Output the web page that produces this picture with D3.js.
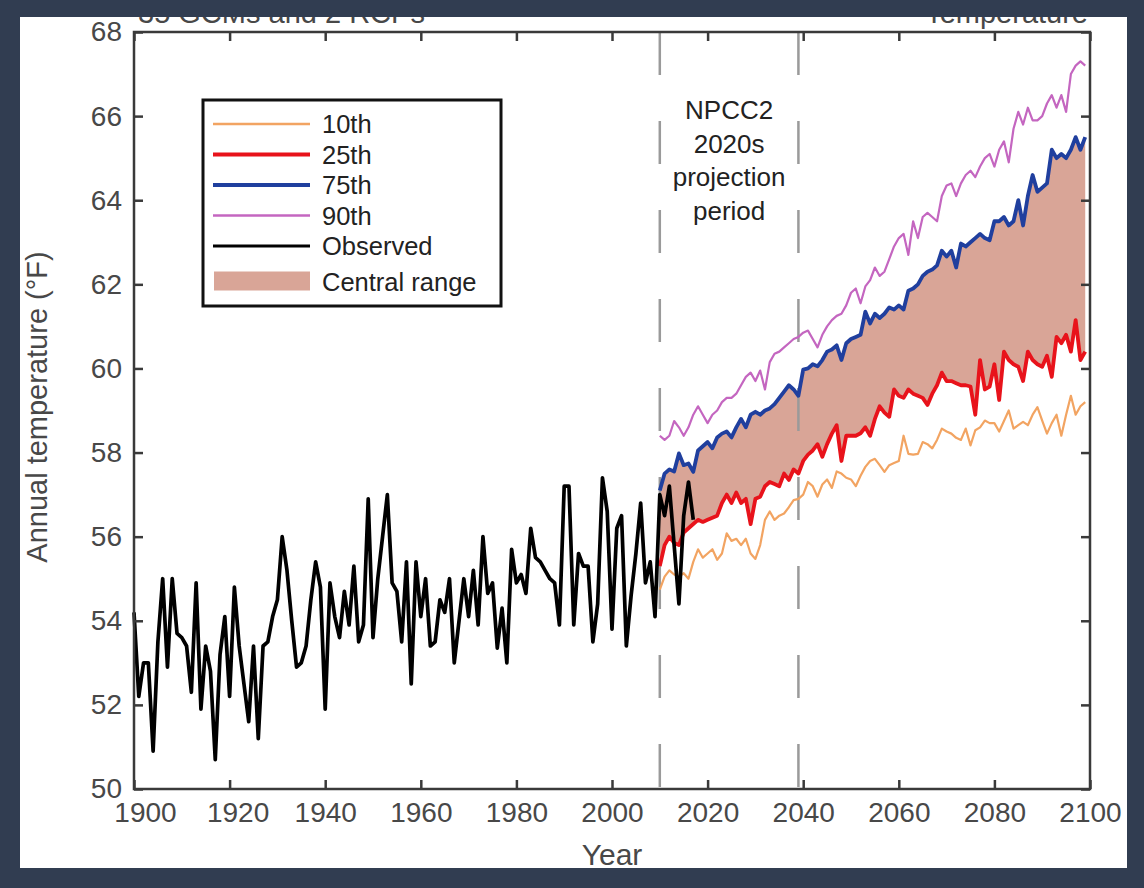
<!DOCTYPE html>
<html>
<head>
<meta charset="utf-8">
<script src="https://cdn.jsdelivr.net/npm/d3@7/dist/d3.min.js"></script>
<style>
  body { margin: 0; background: #fff; }
  svg { display: block; }
  text { font-family: "Liberation Sans", Arial, sans-serif; }
</style>
</head>
<body>
<div id="wrapper"></div>
<script>
// observed annual temperature, 1900-2017
const observedStart = 1900
const observed = [
  54.2, 52.2, 53.0, 53.0, 50.9, 53.5, 55.0, 52.9, 55.0, 53.7,
  53.6, 53.4, 52.3, 54.9, 51.9, 53.4, 52.8, 50.7, 53.2, 54.1,
  52.2, 54.8, 53.4, 52.5, 51.6, 53.4, 51.2, 53.4, 53.5, 54.1,
  54.5, 56.0, 55.2, 54.0, 52.9, 53.0, 53.4, 54.5, 55.4, 54.8,
  51.9, 54.9, 54.1, 53.6, 54.7, 53.9, 55.3, 53.5, 53.9, 56.9,
  53.6, 55.0, 56.0, 57.0, 54.9, 54.7, 53.5, 55.4, 52.5, 55.4,
  54.1, 55.0, 53.4, 53.5, 54.5, 54.2, 55.0, 53.0, 54.0, 55.0,
  54.1, 55.2, 53.9, 56.0, 54.65, 54.9, 53.35, 54.3, 53.0, 55.7,
  54.9, 55.1, 54.65, 56.2, 55.5, 55.4, 55.2, 55.0, 54.9, 53.9,
  57.2, 57.2, 53.9, 55.6, 55.3, 55.3, 53.5, 54.4, 57.4, 56.6,
  53.8, 56.2, 56.5, 53.4, 54.6, 55.6, 56.8, 54.9, 55.4, 54.1,
  57.0, 56.5, 57.2, 55.8, 54.4, 56.5, 57.3, 56.4
]

// model percentiles, 2010-2099
const projStart = 2010
const p10 = [
  54.74, 55.05, 55.2, 55.1, 55.05, 55.13, 55.0, 55.4, 55.7, 55.5,
  55.6, 55.7, 55.45, 55.6, 56.08, 55.9, 55.95, 55.8, 55.95, 55.6,
  55.47, 55.8, 56.4, 56.6, 56.4, 56.5, 56.55, 56.7, 56.87, 56.9,
  57.0, 57.3, 57.2, 56.95, 57.24, 57.36, 57.16, 57.55, 57.5, 57.4,
  57.36, 57.2, 57.45, 57.66, 57.8, 57.85, 57.7, 57.54, 57.7, 57.75,
  57.8, 58.4, 57.97, 57.95, 57.97, 58.25, 58.2, 58.1, 58.3, 58.57,
  58.5, 58.45, 58.35, 58.3, 58.57, 58.17, 58.53, 58.6, 58.76, 58.7,
  58.7, 58.5, 58.75, 59.0, 58.57, 58.65, 58.73, 58.65, 58.9, 59.08,
  58.76, 58.45, 58.7, 58.9, 58.4, 58.9, 59.35, 58.9, 59.1, 59.2
]
const p25 = [
  55.3, 55.8, 56.0, 55.85, 55.8, 56.1, 56.2, 56.3, 56.4, 56.35,
  56.4, 56.45, 56.5, 56.8, 57.0, 56.8, 57.05, 56.8, 56.9, 56.3,
  56.9, 56.95, 57.2, 57.3, 57.25, 57.2, 57.5, 57.35, 57.6, 57.5,
  57.8, 57.95, 58.05, 58.2, 57.9, 58.2, 58.45, 58.65, 57.8, 58.4,
  58.4, 58.4, 58.46, 58.6, 58.4, 58.8, 59.1, 58.95, 58.85, 59.5,
  59.35, 59.3, 59.5, 59.4, 59.35, 59.3, 59.13, 59.4, 59.6, 59.9,
  59.7, 59.7, 59.65, 59.6, 59.6, 59.57, 58.9, 60.2, 59.5, 59.57,
  60.1, 59.25, 60.4, 60.2, 60.1, 60.04, 59.7, 60.4, 60.2, 60.1,
  60.04, 60.3, 59.8, 60.75, 60.6, 60.8, 60.4, 61.15, 60.2, 60.4
]
const p75 = [
  57.1, 57.5, 57.6, 57.55, 57.98, 57.7, 57.74, 57.54, 58.05, 58.15,
  58.25, 58.1, 58.36, 58.45, 58.5, 58.36, 58.6, 58.8, 58.6, 58.9,
  58.97, 58.9, 59.0, 59.05, 59.15, 59.3, 59.45, 59.6, 59.5, 59.35,
  59.97, 60.0, 60.1, 60.05, 60.2, 60.4, 60.45, 60.55, 60.2, 60.6,
  60.7, 60.75, 60.8, 61.35, 61.07, 61.3, 61.2, 61.3, 61.45, 61.4,
  61.5, 61.4, 61.85, 61.9, 62.0, 62.2, 62.3, 62.35, 62.45, 62.8,
  62.66, 62.8, 62.4, 62.97, 62.9, 63.0, 63.1, 63.2, 63.1, 63.05,
  63.5, 63.5, 63.6, 63.4, 63.5, 64.0, 63.4, 64.1, 64.6, 64.2,
  64.3, 64.4, 65.2, 65.0, 65.1, 65.0, 65.2, 65.5, 65.2, 65.5
]
const p90 = [
  58.4, 58.3, 58.4, 58.75, 58.6, 58.4, 58.6, 58.9, 59.1, 58.9,
  58.7, 58.9, 59.0, 59.2, 59.3, 59.3, 59.4, 59.6, 59.8, 59.9,
  59.7, 59.95, 59.5, 60.15, 60.35, 60.4, 60.5, 60.6, 60.7, 60.75,
  60.85, 60.9, 60.7, 60.5, 60.8, 61.0, 61.15, 61.25, 61.3, 61.5,
  61.8, 61.9, 61.55, 61.95, 62.1, 62.4, 62.2, 62.3, 62.6, 62.9,
  63.1, 63.2, 62.7, 63.5, 63.1, 63.6, 63.7, 63.6, 63.5, 64.1,
  64.35, 64.4, 64.1, 64.4, 64.6, 64.7, 64.55, 64.8, 65.0, 65.1,
  64.8, 65.2, 65.4, 64.9, 65.7, 66.1, 65.8, 66.2, 65.9, 65.9,
  66.0, 66.3, 66.5, 66.2, 66.5, 66.1, 67.0, 67.2, 67.3, 67.2
]

const xTicks = [1900, 1920, 1940, 1960, 1980, 2000, 2020, 2040, 2060, 2080, 2100]
const yTicks = [50, 52, 54, 56, 58, 60, 62, 64, 66, 68]
const periodBounds = [2010, 2039]
const periodText = ["NPCC2", "2020s", "projection", "period"]
const legendLabels = ["10th", "25th", "75th", "90th", "Observed", "Central range"]

const colors = {
  p10: "#f2a462", p25: "#e8131b", p75: "#203f9e", p90: "#c466c0",
  obs: "#000", band: "#d9a597", frame: "#3a3a3a", text: "#484848", border: "#313d51"
}

let dimensions = {
  width: 1144,
  height: 888,
  margin: { top: 32, right: 54, bottom: 99, left: 134 }
}
dimensions.boundedWidth = dimensions.width - dimensions.margin.left - dimensions.margin.right
dimensions.boundedHeight = dimensions.height - dimensions.margin.top - dimensions.margin.bottom

const obsData = observed.map((v, i) => ({ year: observedStart + i, value: v }))
const projData = p10.map((v, i) => ({
  year: projStart + i, p10: v, p25: p25[i], p75: p75[i], p90: p90[i]
}))

const wrapper = d3.select('#wrapper')
  .append('svg')
  .attr('width', dimensions.width)
  .attr('height', dimensions.height)

wrapper.append('rect')
  .attr('width', dimensions.width)
  .attr('height', dimensions.height)
  .attr('fill', '#fff')

// clipped titles (mostly hidden behind the dark border)
wrapper.append('text')
  .attr('x', 138).attr('y', 23)
  .attr('font-size', 29).attr('fill', colors.text)
  .text('35 GCMs and 2 RCPs')
wrapper.append('text')
  .attr('x', 1088).attr('y', 23)
  .attr('text-anchor', 'end')
  .attr('font-size', 29).attr('fill', colors.text)
  .text('Temperature')

const bounds = wrapper.append('g')
  .attr('transform', `translate(${dimensions.margin.left},${dimensions.margin.top})`)

const xScale = d3.scaleLinear()
  .domain([1900, 2100])
  .range([0, dimensions.boundedWidth])
const yScale = d3.scaleLinear()
  .domain([50, 68])
  .range([dimensions.boundedHeight, 0])

// central range band
const band = d3.area()
  .x(d => xScale(d.year))
  .y0(d => yScale(d.p25))
  .y1(d => yScale(d.p75))
bounds.append('path')
  .datum(projData)
  .attr('d', band)
  .attr('fill', colors.band)

// projection period markers
bounds.selectAll('.period')
  .data(periodBounds)
  .enter()
  .append('line')
  .attr('x1', d => xScale(d))
  .attr('x2', d => xScale(d))
  .attr('y1', 0)
  .attr('y2', dimensions.boundedHeight)
  .attr('stroke', '#9a9a9a')
  .attr('stroke-width', 2.5)
  .attr('stroke-dasharray', '43,46')

bounds.append('g')
  .selectAll('text')
  .data(periodText)
  .enter()
  .append('text')
  .attr('x', xScale(d3.mean(periodBounds)))
  .attr('y', (d, i) => 87 + i * 33.5)
  .attr('text-anchor', 'middle')
  .attr('font-size', 26)
  .attr('fill', '#222')
  .text(d => d)

function drawLine(data, accessor, color, width) {
  const line = d3.line()
    .x(d => xScale(d.year))
    .y(d => yScale(accessor(d)))
  bounds.append('path')
    .datum(data)
    .attr('d', line)
    .attr('fill', 'none')
    .attr('stroke', color)
    .attr('stroke-width', width)
    .attr('stroke-linejoin', 'round')
}
drawLine(projData, d => d.p10, colors.p10, 2.2)
drawLine(projData, d => d.p90, colors.p90, 2.2)
drawLine(projData, d => d.p75, colors.p75, 3.8)
drawLine(projData, d => d.p25, colors.p25, 3.8)
drawLine(obsData, d => d.value, colors.obs, 3.7)

// axes, ticks pointing inward
const styleAxis = g => {
  g.select('.domain').remove()
  g.selectAll('line').attr('stroke', colors.frame).attr('stroke-width', 2.5)
  g.selectAll('text').attr('font-size', 28).attr('fill', colors.text)
    .attr('font-family', '"Liberation Sans", Arial, sans-serif')
}
const xAxisBottom = bounds.append('g')
  .attr('transform', `translate(0,${dimensions.boundedHeight})`)
  .call(d3.axisBottom(xScale).tickValues(xTicks).tickSize(-9).tickPadding(13).tickFormat(d3.format('d')))
  .call(styleAxis)
// the first labels sit a little right of their ticks in the original
xAxisBottom.selectAll('.tick text')
  .attr('dx', d => d === 1900 ? 11 : d === 1920 ? 8 : 0)
bounds.append('g')
  .call(d3.axisTop(xScale).tickValues(xTicks).tickSize(-9).tickFormat(''))
  .call(styleAxis)
bounds.append('g')
  .call(d3.axisLeft(yScale).tickValues(yTicks).tickSize(-9).tickPadding(12))
  .call(styleAxis)
bounds.append('g')
  .attr('transform', `translate(${dimensions.boundedWidth},0)`)
  .call(d3.axisRight(yScale).tickValues(yTicks).tickSize(-9).tickFormat(''))
  .call(styleAxis)

bounds.append('rect')
  .attr('width', dimensions.boundedWidth)
  .attr('height', dimensions.boundedHeight)
  .attr('fill', 'none')
  .attr('stroke', colors.frame)
  .attr('stroke-width', 2.5)

// axis titles
wrapper.append('text')
  .attr('x', 612).attr('y', 865)
  .attr('text-anchor', 'middle')
  .attr('font-size', 30).attr('fill', colors.text)
  .text('Year')
wrapper.append('text')
  .attr('transform', 'translate(47,407) rotate(-90)')
  .attr('text-anchor', 'middle')
  .attr('font-size', 29).attr('fill', colors.text)
  .text('Annual temperature (°F)')

// legend
const legend = wrapper.append('g').attr('transform', 'translate(203,100)')
legend.append('rect')
  .attr('width', 298).attr('height', 206)
  .attr('fill', '#fff')
  .attr('stroke', '#111').attr('stroke-width', 3)
const legendStyles = [
  { color: colors.p10, width: 2.6 },
  { color: colors.p25, width: 3.8 },
  { color: colors.p75, width: 3.8 },
  { color: colors.p90, width: 2.6 },
  { color: colors.obs, width: 3 },
  { color: colors.band, box: true }
]
const legendRows = legend.selectAll('.row')
  .data(legendLabels)
  .enter()
  .append('g')
  .attr('transform', (d, i) => `translate(0,${24 + i * 30.5})`)
legendRows.each(function (d, i) {
  const row = d3.select(this)
  const s = legendStyles[i]
  if (s.box) {
    row.append('rect')
      .attr('x', 11).attr('y', -5).attr('width', 96).attr('height', 19)
      .attr('fill', s.color)
  } else {
    row.append('line')
      .attr('x1', 10).attr('x2', 107)
      .attr('stroke', s.color).attr('stroke-width', s.width)
  }
  row.append('text')
    .attr('x', 119).attr('y', s.box ? 14 : 9)
    .attr('font-size', 25.5).attr('fill', '#222')
    .text(d)
})

// dark frame around the picture
const border = wrapper.append('g').attr('fill', colors.border)
border.append('rect').attr('x', 0).attr('y', 0).attr('width', 1144).attr('height', 17)
border.append('rect').attr('x', 0).attr('y', 0).attr('width', 20).attr('height', 888)
border.append('rect').attr('x', 1127).attr('y', 0).attr('width', 17).attr('height', 888)
border.append('rect').attr('x', 0).attr('y', 868).attr('width', 1144).attr('height', 20)
</script>
</body>
</html>
